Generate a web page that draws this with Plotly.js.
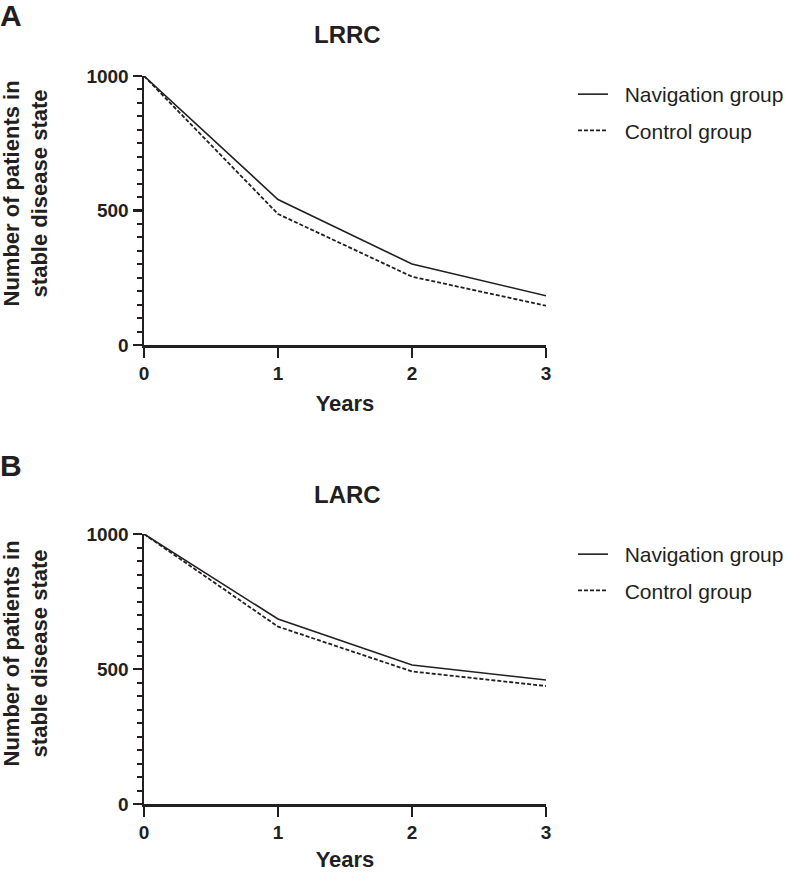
<!DOCTYPE html>
<html>
<head>
<meta charset="utf-8">
<script src="https://cdn.plot.ly/plotly-3.0.1.min.js"></script>
<style>html,body{margin:0;padding:0;background:#fff;}#chart{width:789px;height:872px;}</style>
</head>
<body>
<div id="chart"></div>
<script>
// Data
const years = [0, 1, 2, 3];
const lrrcNavigation = [1000, 541, 301, 183];
const lrrcControl = [1000, 487, 254, 146];
const larcNavigation = [1000, 685, 515, 459];
const larcControl = [1000, 657, 491, 437];
const seriesNames = ["Navigation group", "Control group"];
const panelTitles = ["LRRC", "LARC"];
const panelLetters = ["A", "B"];
const yTitle = "Number of patients in<br>stable disease state";
const xTitle = "Years";
const yTickVals = [0, 500, 1000];
const xTickVals = [0, 1, 2, 3];

const ink = "#231f20";
const FONT = "Liberation Sans, Arial, sans-serif";
const pad = "\u00a0\u00a0";

const solid = {color: ink, width: 1.6, dash: "solid"};
const dashed = {color: ink, width: 1.8, dash: "4px,2px"};

const traces = [
  {x: years, y: lrrcNavigation, name: pad + seriesNames[0], mode: "lines", line: solid, xaxis: "x", yaxis: "y", legend: "legend", legendgroup: "a1"},
  {x: years, y: lrrcControl, name: pad + seriesNames[1], mode: "lines", line: dashed, xaxis: "x", yaxis: "y", legend: "legend", legendgroup: "a2"},
  {x: years, y: larcNavigation, name: pad + seriesNames[0], mode: "lines", line: solid, xaxis: "x2", yaxis: "y2", legend: "legend2", legendgroup: "b1"},
  {x: years, y: larcControl, name: pad + seriesNames[1], mode: "lines", line: dashed, xaxis: "x2", yaxis: "y2", legend: "legend2", legendgroup: "b2"}
];

function xAxis(anchor) {
  return {
    domain: [144/789, 546/789], anchor: anchor, range: [0, 3],
    tickvals: xTickVals, ticks: "outside", ticklen: 10, tickwidth: 2.5, tickcolor: ink,
    showline: true, linewidth: 2.5, linecolor: ink, showgrid: false, zeroline: false,
    tickfont: {family: FONT, size: 19, color: ink, weight: "bold"},
    title: {text: "<b>" + xTitle + "</b>", font: {family: FONT, size: 22, color: ink}, standoff: 13},
    fixedrange: true
  };
}
function yAxis(anchor, dom) {
  return {
    domain: dom, anchor: anchor, range: [0, 1000],
    tickvals: yTickVals, ticks: "outside", ticklen: 9, tickwidth: 2.5, tickcolor: ink,
    minor: {dtick: 50, tick0: 0, ticks: "outside", ticklen: 5, tickwidth: 2, tickcolor: ink, showgrid: false},
    showline: true, linewidth: 2.5, linecolor: ink, showgrid: false, zeroline: false,
    tickfont: {family: FONT, size: 19, color: ink, weight: "bold"},
    fixedrange: true
  };
}

const legendBase = {
  bgcolor: "rgba(0,0,0,0)", borderwidth: 0,
  font: {family: FONT, size: 21, color: ink},
  xanchor: "left", yanchor: "top", itemwidth: 30, tracegroupgap: 6
};

function yTitleAnn(yc) {
  return {text: "<b>" + yTitle + "</b>", xref: "paper", yref: "paper", x: 25.5/789, y: 1 - yc/872,
    textangle: -90, showarrow: false, font: {family: FONT, size: 22, color: ink}, xanchor: "center", yanchor: "middle"};
}

const layout = {
  width: 789, height: 872,
  margin: {l: 0, r: 0, t: 0, b: 0},
  paper_bgcolor: "#fff", plot_bgcolor: "#fff",
  font: {family: FONT, color: ink},
  xaxis: xAxis("y"),
  yaxis: yAxis("x", [1 - 345/872, 1 - 76/872]),
  xaxis2: xAxis("y2"),
  yaxis2: yAxis("x2", [1 - 804/872, 1 - 534/872]),
  legend: Object.assign({}, legendBase, {x: 573/789, y: 1 - 74/872}),
  legend2: Object.assign({}, legendBase, {x: 573/789, y: 1 - 534/872}),
  showlegend: true,
  annotations: [
    {text: "<b>" + panelTitles[0] + "</b>", xref: "paper", yref: "paper", x: 347/789, y: 1 - 34/872, showarrow: false, font: {family: FONT, size: 24, color: ink}, xanchor: "center", yanchor: "middle"},
    {text: "<b>" + panelTitles[1] + "</b>", xref: "paper", yref: "paper", x: 347/789, y: 1 - 494/872, showarrow: false, font: {family: FONT, size: 24, color: ink}, xanchor: "center", yanchor: "middle"},
    {text: "<b>" + panelLetters[0] + "</b>", xref: "paper", yref: "paper", x: -0.002, y: 1 - 15/872, showarrow: false, font: {family: FONT, size: 30, color: ink}, xanchor: "left", yanchor: "middle"},
    {text: "<b>" + panelLetters[1] + "</b>", xref: "paper", yref: "paper", x: -0.002, y: 1 - 465/872, showarrow: false, font: {family: FONT, size: 30, color: ink}, xanchor: "left", yanchor: "middle"},
    yTitleAnn(194),
    yTitleAnn(654)
  ]
};

Plotly.newPlot("chart", traces, layout, {displayModeBar: false, staticPlot: true});
</script>
</body>
</html>
